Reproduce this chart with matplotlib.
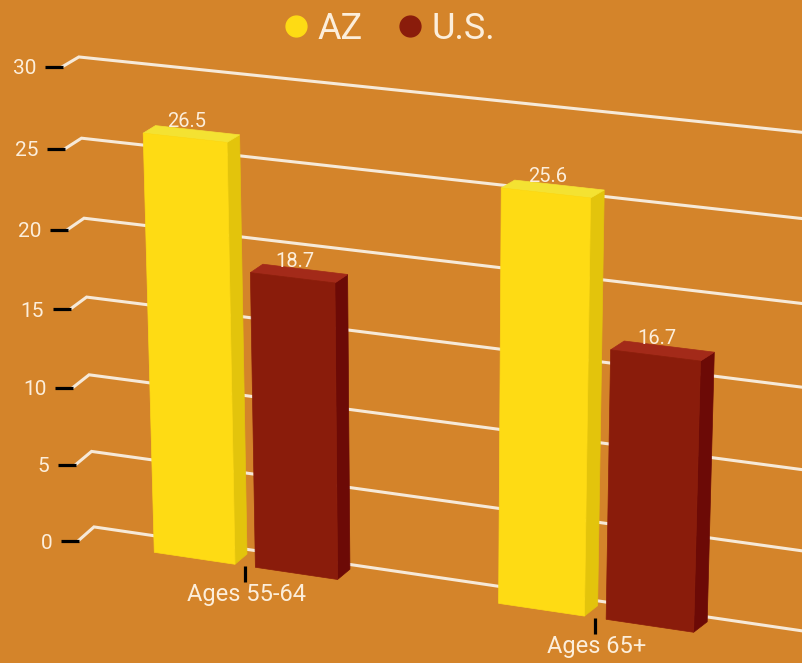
import numpy as np
import matplotlib
matplotlib.use('Agg')
import matplotlib.pyplot as plt
from matplotlib.transforms import Transform, Affine2D
from matplotlib.lines import Line2D

# ---------------- data ----------------
categories = ['Ages 55-64', 'Ages 65+']
series_names = ['AZ', 'U.S.']
az_values = [26.5, 25.6]
us_values = [18.7, 16.7]
y_ticks = [0, 5, 10, 15, 20, 25, 30]

# ---------------- style ----------------
BG = '#D4842A'
GRID = '#F6E9D8'
TEXT = '#FCEEDB'
AZ_FACES = ('#FEDB14', '#F4E232', '#E3C40C')   # front, top, side
US_FACES = ('#8A1C0B', '#A32A19', '#6C0A06')
FONT = ['Roboto', 'DejaVu Sans']

W, H = 802, 663
fig = plt.figure(figsize=(W / 100, H / 100), dpi=100, facecolor=BG)
ax = fig.add_axes([0, 0, 1, 1])
ax.set_xlim(-0.5, 1.5)
ax.set_ylim(0, 30)
ax.set_axis_off()

# perspective "camera" (homography in normalised axes space)
CAMERA = np.array([[0.81546, -0.02327, 0.09726],
                   [-0.15834, 0.67626, 0.18401],
                   [-0.06, -0.0432, 1.0]])


class Perspective(Transform):
    input_dims = 2
    output_dims = 2
    is_separable = False
    has_inverse = False

    def __init__(self, M):
        super().__init__()
        self.M = M

    def transform_non_affine(self, values):
        v = np.asarray(values, float).reshape(-1, 2)
        h = np.column_stack([v, np.ones(len(v))]) @ self.M.T
        return h[:, :2] / h[:, 2:3]


cam = ax.transScale + ax.transLimits + Perspective(CAMERA) + ax.transAxes

# depth (z in 0..1 of wall depth) expressed as a shift in data space
WALL_DX = 0.05
WALL_DV0 = 1.09
WALL_DV_SLOPE = -0.0127
BAR_DEPTH = 0.72


def deep(x, v, z):
    x = np.asarray(x, float)
    v = np.asarray(v, float)
    return x + WALL_DX * z, v + (WALL_DV0 + WALL_DV_SLOPE * v) * z


x_left = ax.get_xlim()[0]
x_far = 2.0

# ---------------- gridlines (left wall + back wall) ----------------
for t in y_ticks:
    bx, bv = deep(x_left, t, 1)
    ex, ev = deep(x_far, t, 1)
    ax.plot([x_left, bx, ex], [t, bv, ev], color=GRID, lw=2.2, transform=cam,
            clip_on=False, solid_joinstyle='miter', zorder=1)

# y ticks + labels
ax.plot([x_left] * len(y_ticks), y_ticks, ls='', marker='_', ms=12.5, mew=2.3,
        color='black', transform=cam + Affine2D().translate(-8.5, 0),
        clip_on=False, zorder=2)
for t in y_ticks:
    ax.annotate(f'{t}', xy=(x_left, t), xycoords=cam, xytext=(-26, -7.5),
                textcoords='offset pixels', ha='right', va='baseline',
                color=TEXT, fontsize=15, family=FONT, zorder=5)

# ---------------- bars ----------------
bar_w = 0.24
offsets = [-0.15, 0.15]
series = [(az_values, AZ_FACES), (us_values, US_FACES)]

for i in range(len(categories)):
    for (vals, faces), off in zip(series, offsets):
        v = vals[i]
        x0 = i + off - bar_w / 2
        x1 = i + off + bar_w / 2
        front, top, side = faces
        # side face (right)
        dx, dv = deep([x1, x1], [v, 0], BAR_DEPTH)
        ax.fill([x1, x1, *dx], [0, v, *dv], color=side, ec=side, lw=0.5,
                transform=cam, clip_on=False, zorder=3)
        # top face
        bxs, bvs = deep([x1, x0], [v, v], BAR_DEPTH)
        ax.fill([x0, x1, *bxs], [v, v, *bvs], color=top, ec=top, lw=0.5,
                transform=cam, clip_on=False, zorder=3)
        # front face
        ax.fill([x0, x1, x1, x0], [0, 0, v, v], color=front, ec=front, lw=0.5,
                transform=cam, clip_on=False, zorder=3)
        # value label
        ax.annotate(f'{v}', xy=(i + off, v), xycoords=cam, xytext=(2, 11),
                    textcoords='offset pixels', ha='center', va='baseline',
                    color=TEXT, fontsize=14.5, family=FONT, zorder=6)

# x ticks + labels
xs = np.arange(len(categories))
ax.plot(xs, [0] * len(xs), ls='', marker='|', ms=11, mew=2.3, color='black',
        transform=cam + Affine2D().translate(0, -8), clip_on=False, zorder=2)
for i, c in enumerate(categories):
    ax.annotate(c, xy=(i, 0), xycoords=cam, xytext=(1, -35),
                textcoords='offset pixels', ha='center', va='baseline',
                color=TEXT, fontsize=17, family=FONT, zorder=5)

# ---------------- legend ----------------
handles = [Line2D([], [], ls='', marker='o', ms=15, mfc=f[0], mec=f[0])
           for _, f in series]
fig.legend(handles, series_names, loc='center', bbox_to_anchor=(390 / W, 1 - 29 / H),
           ncol=2, frameon=False, handlelength=0.6, handletextpad=0.3,
           columnspacing=1.0, labelcolor=TEXT, prop={'family': FONT, 'size': 26})

fig.savefig('out.png', dpi=100, facecolor=BG)
